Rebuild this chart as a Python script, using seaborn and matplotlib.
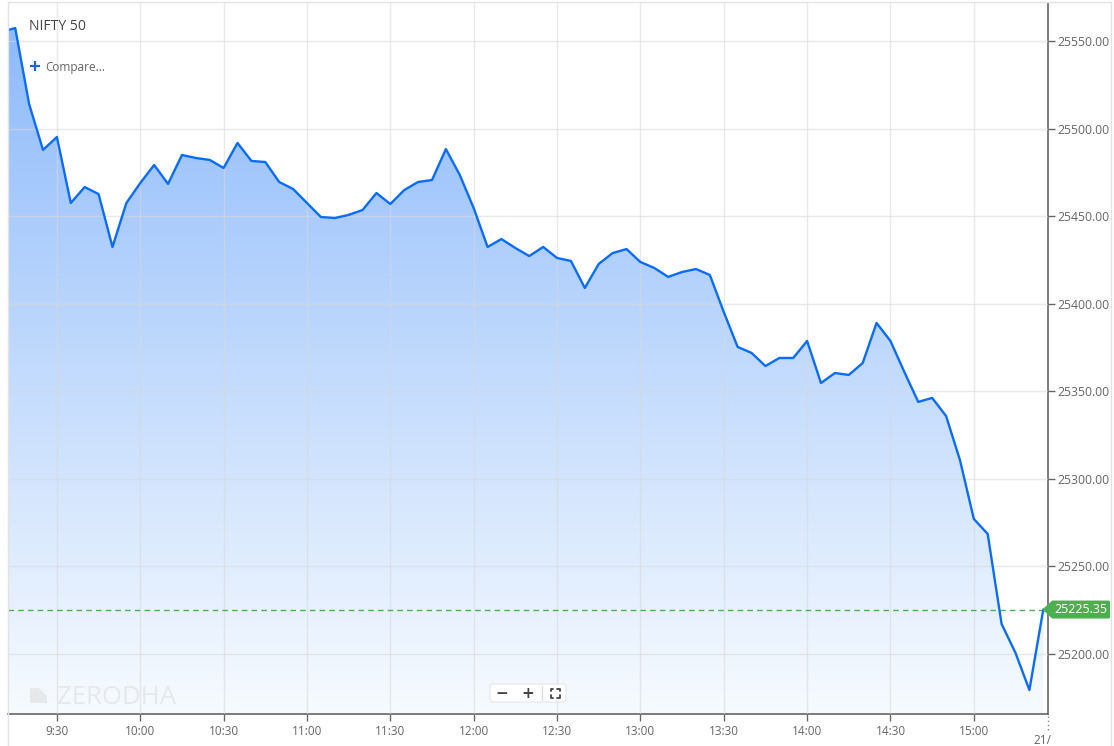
import numpy as np
import pandas as pd
import matplotlib
matplotlib.use("Agg")
import matplotlib.pyplot as plt
import seaborn as sns
from matplotlib.patches import Polygon, FancyBboxPatch
from matplotlib.lines import Line2D
from matplotlib.colors import LinearSegmentedColormap
from matplotlib.transforms import IdentityTransform

# ---------------- data (minutes after 9:00, index level) ----------------
times = [12.5, 15, 20, 25, 30, 35, 40, 45, 50, 55, 60, 65, 70, 75, 80, 85, 90, 95,
         100, 105, 110, 115, 120, 125, 130, 135, 140, 145, 150, 155, 160, 165, 170,
         175, 180, 185, 190, 195, 200, 205, 210, 215, 220, 225, 230, 235, 240, 245,
         250, 255, 260, 265, 270, 275, 280, 285, 290, 295, 300, 305, 310, 315, 320,
         325, 330, 335, 340, 345, 350, 355, 360, 365, 370, 375, 380, 385]
prices = [25556.3, 25557.4, 25514.0, 25487.8, 25495.2, 25457.5, 25466.6, 25462.6,
          25432.4, 25457.5, 25468.9, 25479.2, 25468.4, 25484.9, 25483.2, 25482.1,
          25477.5, 25491.8, 25481.5, 25480.9, 25469.5, 25465.5, 25457.5, 25449.5,
          25448.9, 25450.7, 25453.5, 25463.2, 25456.9, 25464.9, 25469.5, 25470.6,
          25488.3, 25473.5, 25454.6, 25432.4, 25436.9, 25431.8, 25427.2, 25432.4,
          25426.1, 25424.4, 25409.0, 25422.7, 25428.9, 25431.2, 25423.8, 25420.4,
          25415.3, 25418.1, 25419.8, 25416.4, 25395.3, 25375.3, 25371.9, 25364.4,
          25369.0, 25369.0, 25378.7, 25354.7, 25360.4, 25359.3, 25366.1, 25389.0,
          25378.7, 25361.0, 25343.9, 25346.2, 25335.9, 25310.8, 25277.1, 25268.5,
          25217.1, 25200.6, 25179.4, 25225.35]
tick_minutes = [30, 60, 90, 120, 150, 180, 210, 240, 270, 300, 330, 360]
tick_labels = ["9:30", "10:00", "10:30", "11:00", "11:30", "12:00", "12:30",
               "13:00", "13:30", "14:00", "14:30", "15:00"]
ytick_values = [25200, 25250, 25300, 25350, 25400, 25450, 25500, 25550]
last_price = 25225.35
title = "NIFTY 50"

df = pd.DataFrame({"t": times, "price": prices})

# ---------------- figure ----------------
W, H = 1114, 746
sns.set_theme(style="white")
plt.rcParams["font.family"] = ["Open Sans", "DejaVu Sans"]

fig = plt.figure(figsize=(W / 100, H / 100), dpi=100)
fig.patch.set_facecolor("white")
ax = fig.add_axes([8 / W, 32 / H, (1048 - 8) / W, (714 - 3) / H])

xmin, xmax = 12.4, 386.7
ymin, ymax = 25165.7, 25571.7
ax.set_xlim(xmin, xmax)
ax.set_ylim(ymin, ymax)

# gradient fill under the line
cmap = LinearSegmentedColormap.from_list("g", ["#f7fbff", "#8ab8fb"])
grad = np.linspace(0, 1, 256).reshape(-1, 1)
im = ax.imshow(grad, extent=[xmin, xmax, ymin, ymax], origin="lower",
               aspect="auto", cmap=cmap, zorder=1)
poly = ax.fill_between(df["t"], df["price"], ymin, facecolor="none",
                       edgecolor="none", zorder=1)
im.set_clip_path(poly.get_paths()[0], transform=ax.transData)

sns.lineplot(data=df, x="t", y="price", ax=ax, color="#0a6cf7", lw=1.7,
             zorder=4)

# grid
ax.set_axisbelow(False)
ax.grid(True, color="#d8d8d8", alpha=0.55, lw=1.0, zorder=2)
for gl in ax.get_xgridlines() + ax.get_ygridlines():
    gl.set_zorder(2)

# last price dashed line
ax.axhline(last_price, color="#4caf50", ls=(0, (4, 3)), lw=1.0, zorder=3)

# axes styling
ax.set_xticks(tick_minutes)
ax.set_xticklabels(tick_labels)
ax.set_yticks(ytick_values)
ax.set_yticklabels([f"{v:.2f}" for v in ytick_values])
ax.yaxis.tick_right()
ax.tick_params(axis="x", direction="out", length=5, width=1, color="#666666",
               labelcolor="#666666", labelsize=8.5, pad=3, bottom=True)
ax.tick_params(axis="y", direction="out", length=5, width=1, color="#666666",
               labelcolor="#666666", labelsize=8.8, pad=2, right=True, left=False)
ax.set_xlabel("")
ax.set_ylabel("")
for s in ["left", "top"]:
    ax.spines[s].set_visible(False)
for s in ["right", "bottom"]:
    ax.spines[s].set_visible(True)
    ax.spines[s].set_color("#666666")
    ax.spines[s].set_linewidth(1.2)


def fx(x):
    return x / W


def fy(y):
    return 1 - y / H


# widget border
for (x0, y0, x1, y1) in [(8, 2, 8, 746), (8, 2, 1111, 2), (1111, 2, 1111, 746)]:
    fig.add_artist(Line2D([fx(x0), fx(x1)], [fy(y0), fy(y1)], color="#e3e3e3",
                          lw=1, transform=fig.transFigure))

# dotted marker for next day
fig.add_artist(Line2D([fx(1048), fx(1048)], [fy(716), fy(731)], color="#888888",
                      lw=1, ls=(0, (1, 2)), transform=fig.transFigure))
fig.text(fx(1033), fy(741), "21/", fontsize=8.5, color="#666666",
         ha="left", va="center")

# title & compare
fig.text(fx(29), fy(26.5), title, fontsize=10.1, color="#444444", ha="left",
         va="center")
fig.add_artist(Line2D([fx(29.5), fx(39.5)], [fy(66), fy(66)], color="#1a66d2",
                      lw=1.6, transform=fig.transFigure, solid_capstyle="butt"))
fig.add_artist(Line2D([fx(34.5), fx(34.5)], [fy(61), fy(71)], color="#1a66d2",
                      lw=1.6, transform=fig.transFigure, solid_capstyle="butt"))
fig.text(fx(45.5), fy(67.5), "Compare...", fontsize=8.5, color="#666666",
         ha="left", va="center")

# watermark
fig.text(fx(57), fy(697), "ZERODHA", fontsize=18.5, color="#e6e8ea",
         ha="left", va="center", fontweight="normal", zorder=5)
fig.add_artist(Polygon([(fx(30), fy(703)), (fx(30), fy(688)), (fx(39), fy(688)),
                        (fx(47), fy(696)), (fx(47), fy(703))], closed=True,
                       fc="#e6e8ea", ec="none", transform=fig.transFigure))

# zoom controls
fig.add_artist(FancyBboxPatch((fx(490), fy(702)), fx(76), 18 / H,
                              boxstyle="round,pad=0.0,rounding_size=0.003",
                              fc="white", ec="#e6e6e6", lw=0.8,
                              transform=fig.transFigure, zorder=6))
fig.text(fx(502), fy(693), "\u2212", fontsize=11, color="#444444",
         ha="center", va="center", fontweight="bold", zorder=7,
         family=["DejaVu Sans"])
fig.text(fx(528), fy(693), "+", fontsize=11, color="#444444",
         ha="center", va="center", fontweight="bold", zorder=7,
         family=["DejaVu Sans"])
fig.add_artist(Line2D([fx(542), fx(542)], [fy(686), fy(700)], color="#dddddd",
                      lw=1, transform=fig.transFigure, zorder=7))
cx, cy, hs, arm = 555, 693, 4.5, 2.5
for sx in (-1, 1):
    for sy in (-1, 1):
        xc, yc = cx + sx * hs, cy + sy * hs
        fig.add_artist(Line2D([fx(xc), fx(xc), fx(xc - sx * arm)],
                              [fy(yc - sy * arm), fy(yc), fy(yc)],
                              color="#444444", lw=1.3,
                              transform=fig.transFigure, zorder=7))

# price tag
fig.canvas.draw()
yp = ax.transData.transform((xmin, last_price))[1]
xp = ax.transData.transform((385, last_price))[0]
tag = Polygon([(xp - 1, yp), (xp + 9, yp + 9), (1109, yp + 9), (1110, yp + 8),
               (1110, yp - 8), (1109, yp - 9), (xp + 9, yp - 9)], closed=True,
              fc="#4caf50", ec="none", transform=IdentityTransform(), zorder=8)
fig.add_artist(tag)
fig.text(fx(1081), yp / H, f"{last_price:.2f}", fontsize=8.9, color="white",
         ha="center", va="center", zorder=9)

fig.savefig("out.png", dpi=100, facecolor="white")
